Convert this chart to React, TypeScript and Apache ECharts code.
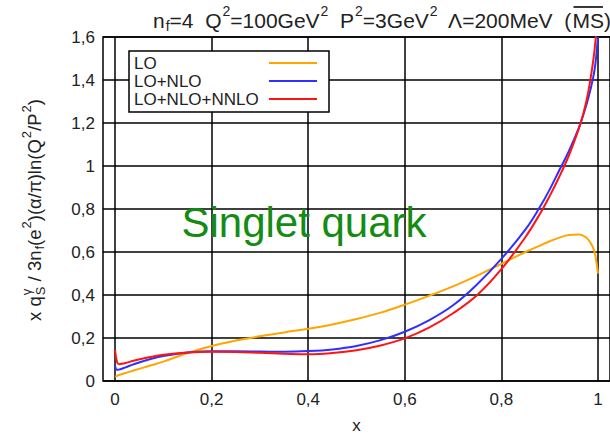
import React, { useEffect, useRef } from 'react';
import * as echarts from 'echarts';

// Momentum fraction x and the three perturbative orders of x q_S^γ
const xValues = [0, 0.004, 0.008, 0.02, 0.04, 0.07, 0.1, 0.15, 0.2, 0.25, 0.3, 0.35, 0.4, 0.45, 0.5, 0.55, 0.6, 0.65, 0.7, 0.75, 0.8, 0.85, 0.88, 0.9, 0.92, 0.94, 0.96, 0.97, 0.98, 0.99, 0.995, 1.0];
const loValues = [0.02, 0.024, 0.028, 0.036, 0.05, 0.07, 0.09, 0.13, 0.163, 0.188, 0.208, 0.226, 0.243, 0.263, 0.288, 0.318, 0.355, 0.396, 0.44, 0.49, 0.545, 0.6, 0.63, 0.65, 0.667, 0.679, 0.681, 0.675, 0.658, 0.62, 0.58, 0.5];
const nloValues = [0.07, 0.052, 0.053, 0.062, 0.079, 0.1, 0.116, 0.132, 0.138, 0.138, 0.137, 0.136, 0.139, 0.147, 0.163, 0.19, 0.229, 0.282, 0.352, 0.45, 0.568, 0.705, 0.81, 0.89, 0.98, 1.07, 1.175, 1.24, 1.315, 1.41, 1.48, 1.6];
const nnloValues = [0.145, 0.088, 0.078, 0.083, 0.095, 0.11, 0.122, 0.132, 0.136, 0.135, 0.131, 0.127, 0.124, 0.13, 0.143, 0.165, 0.198, 0.248, 0.315, 0.4, 0.52, 0.67, 0.778, 0.86, 0.95, 1.05, 1.17, 1.245, 1.345, 1.485, 1.585, 1.735];

const xTicks = [0, 0.2, 0.4, 0.6, 0.8, 1];
const seriesNames = ['LO', 'LO+NLO', 'LO+NLO+NNLO'];
const seriesColors = ['#ffa500', '#2f2fff', '#ff1414'];

const FONT = '"Liberation Sans", Arial, Helvetica, sans-serif';
const TEXT_COLOR = '#222';

type Piece = { t: string; k: 'm' | 'sup' | 'sub' | 'stack'; t2?: string; over?: boolean };

let measureCtx: CanvasRenderingContext2D | null = null;
function textWidth(t: string, size: number): number {
  if (!measureCtx) measureCtx = document.createElement('canvas').getContext('2d');
  if (!measureCtx) return t.length * size * 0.55;
  measureCtx.font = `${size}px ${FONT}`;
  return measureCtx.measureText(t).width;
}

// Lays out a formula made of normal, raised and lowered pieces along a line.
function formula(pieces: Piece[], size: number, startX: number, midY: number, fill: string) {
  const small = Math.round(size * 0.68);
  const supDy = -size * 0.42;
  const subDy = size * 0.3;
  const out: any[] = [];
  let x = startX;
  const txt = (t: string, px: number, py: number, fs: number) => ({
    type: 'text',
    style: {
      text: t, x: px, y: py, fill, font: `${fs}px ${FONT}`,
      align: 'left', verticalAlign: 'middle', textAlign: 'left', textVerticalAlign: 'middle',
    },
  });
  for (const p of pieces) {
    if (p.k === 'm') {
      out.push(txt(p.t, x, midY, size));
      const w = textWidth(p.t, size);
      if (p.over) {
        out.push({
          type: 'line',
          shape: { x1: x + 1, y1: midY - size * 0.62, x2: x + w - 1, y2: midY - size * 0.62 },
          style: { stroke: fill, lineWidth: 1.8 },
        });
      }
      x += w;
    } else if (p.k === 'sup') {
      out.push(txt(p.t, x + 1, midY + supDy, small));
      x += textWidth(p.t, small) + 1;
    } else if (p.k === 'sub') {
      out.push(txt(p.t, x + 1, midY + subDy, small));
      x += textWidth(p.t, small) + 1;
    } else {
      out.push(txt(p.t, x + 1, midY + supDy, small));
      out.push(txt(p.t2 || '', x + 1, midY + subDy + 1, small));
      x += Math.max(textWidth(p.t, small), textWidth(p.t2 || '', small)) + 1;
    }
  }
  return { elements: out, width: x - startX };
}

function formulaWidth(pieces: Piece[], size: number) {
  return formula(pieces, size, 0, 0, '#000').width;
}

const titlePieces: Piece[] = [
  { t: 'n', k: 'm' }, { t: 'f', k: 'sub' }, { t: '=4  Q', k: 'm' }, { t: '2', k: 'sup' },
  { t: '=100GeV', k: 'm' }, { t: '2', k: 'sup' }, { t: '  P', k: 'm' }, { t: '2', k: 'sup' },
  { t: '=3GeV', k: 'm' }, { t: '2', k: 'sup' }, { t: '  Λ=200MeV  (', k: 'm' },
  { t: 'MS', k: 'm', over: true }, { t: ')', k: 'm' },
];

const yNamePieces: Piece[] = [
  { t: 'x q', k: 'm' }, { t: 'γ', k: 'stack', t2: 'S' }, { t: ' / 3n', k: 'm' }, { t: 'f', k: 'sub' },
  { t: '(e', k: 'm' }, { t: '2', k: 'sup' }, { t: ')(α/π)ln(Q', k: 'm' }, { t: '2', k: 'sup' },
  { t: '/P', k: 'm' }, { t: '2', k: 'sup' }, { t: ')', k: 'm' },
];

const fmt = (v: number) => {
  const r = Math.round(v * 10) / 10;
  return String(r).replace('.', ',');
};

export default function App() {
  const ref = useRef<HTMLDivElement>(null);

  useEffect(() => {
    if (!ref.current) return;
    const chart = echarts.init(ref.current, null, { renderer: 'svg' });

    const titleSize = 21;
    const title = formula(titlePieces, titleSize, 153, 20, TEXT_COLOR);

    const yNameSize = 18.5;
    const yw = formulaWidth(yNamePieces, yNameSize);
    const yName = formula(yNamePieces, yNameSize, -yw / 2, 0, TEXT_COLOR);

    const legendTop = 51;
    const legendRows = [63, 81, 99];
    const legendEls: any[] = [
      {
        type: 'rect', z: 100,
        shape: { x: 129, y: legendTop, width: 200, height: 61 },
        style: { fill: '#fff', stroke: '#000', lineWidth: 1.5 },
      },
    ];
    seriesNames.forEach((name, i) => {
      legendEls.push({
        type: 'text', z: 101,
        style: {
          text: name, x: 134, y: legendRows[i], fill: TEXT_COLOR, font: `17px ${FONT}`,
          align: 'left', verticalAlign: 'middle', textAlign: 'left', textVerticalAlign: 'middle',
        },
      });
      legendEls.push({
        type: 'line', z: 101,
        shape: { x1: 269, y1: legendRows[i], x2: 317, y2: legendRows[i] },
        style: { stroke: seriesColors[i], lineWidth: 2 },
      });
    });

    const valueSets = [loValues, nloValues, nnloValues];

    chart.setOption({
      animation: false,
      backgroundColor: '#fff',
      grid: {
        left: 103, top: 37, width: 509, height: 345,
        show: true, borderColor: '#000', borderWidth: 1.5, backgroundColor: 'transparent',
      },
      xAxis: {
        type: 'value', min: -0.025, max: 1.025,
        name: 'x', nameLocation: 'middle', nameGap: 36,
        nameTextStyle: { fontSize: 17, color: TEXT_COLOR, fontFamily: FONT },
        axisLine: { show: false },
        axisTick: { show: false, customValues: xTicks },
        axisLabel: {
          customValues: xTicks, formatter: fmt, fontSize: 17, color: TEXT_COLOR,
          fontFamily: FONT, margin: 10,
        },
        splitLine: { show: true, lineStyle: { color: '#000', width: 1.5 } },
      },
      yAxis: {
        type: 'value', min: 0, max: 1.6, interval: 0.2,
        axisLine: { show: false },
        axisTick: { show: false },
        axisLabel: { formatter: fmt, fontSize: 17, color: TEXT_COLOR, fontFamily: FONT, margin: 8 },
        splitLine: { show: true, lineStyle: { color: '#000', width: 1.5 } },
      },
      series: seriesNames.map((name, i) => ({
        name, type: 'line',
        data: xValues.map((x, j) => [x, valueSets[i][j]]),
        showSymbol: false, smooth: 0.4, clip: true,
        lineStyle: { color: seriesColors[i], width: 2 },
        itemStyle: { color: seriesColors[i] },
        z: 3 + i,
      })),
      graphic: [
        ...title.elements,
        { type: 'group', x: 34, y: 210, rotation: Math.PI / 2, children: yName.elements },
        ...legendEls,
        {
          type: 'text', z: 100,
          style: {
            text: 'Singlet quark', x: 304, y: 222, fill: '#148c14', font: `42px ${FONT}`,
            align: 'center', verticalAlign: 'middle', textAlign: 'center', textVerticalAlign: 'middle',
          },
        },
      ],
    });

    return () => chart.dispose();
  }, []);

  return (
    <div
      ref={ref}
      style={{ position: 'absolute', left: 0, top: 0, width: 610, height: 439, background: '#fff' }}
    />
  );
}
